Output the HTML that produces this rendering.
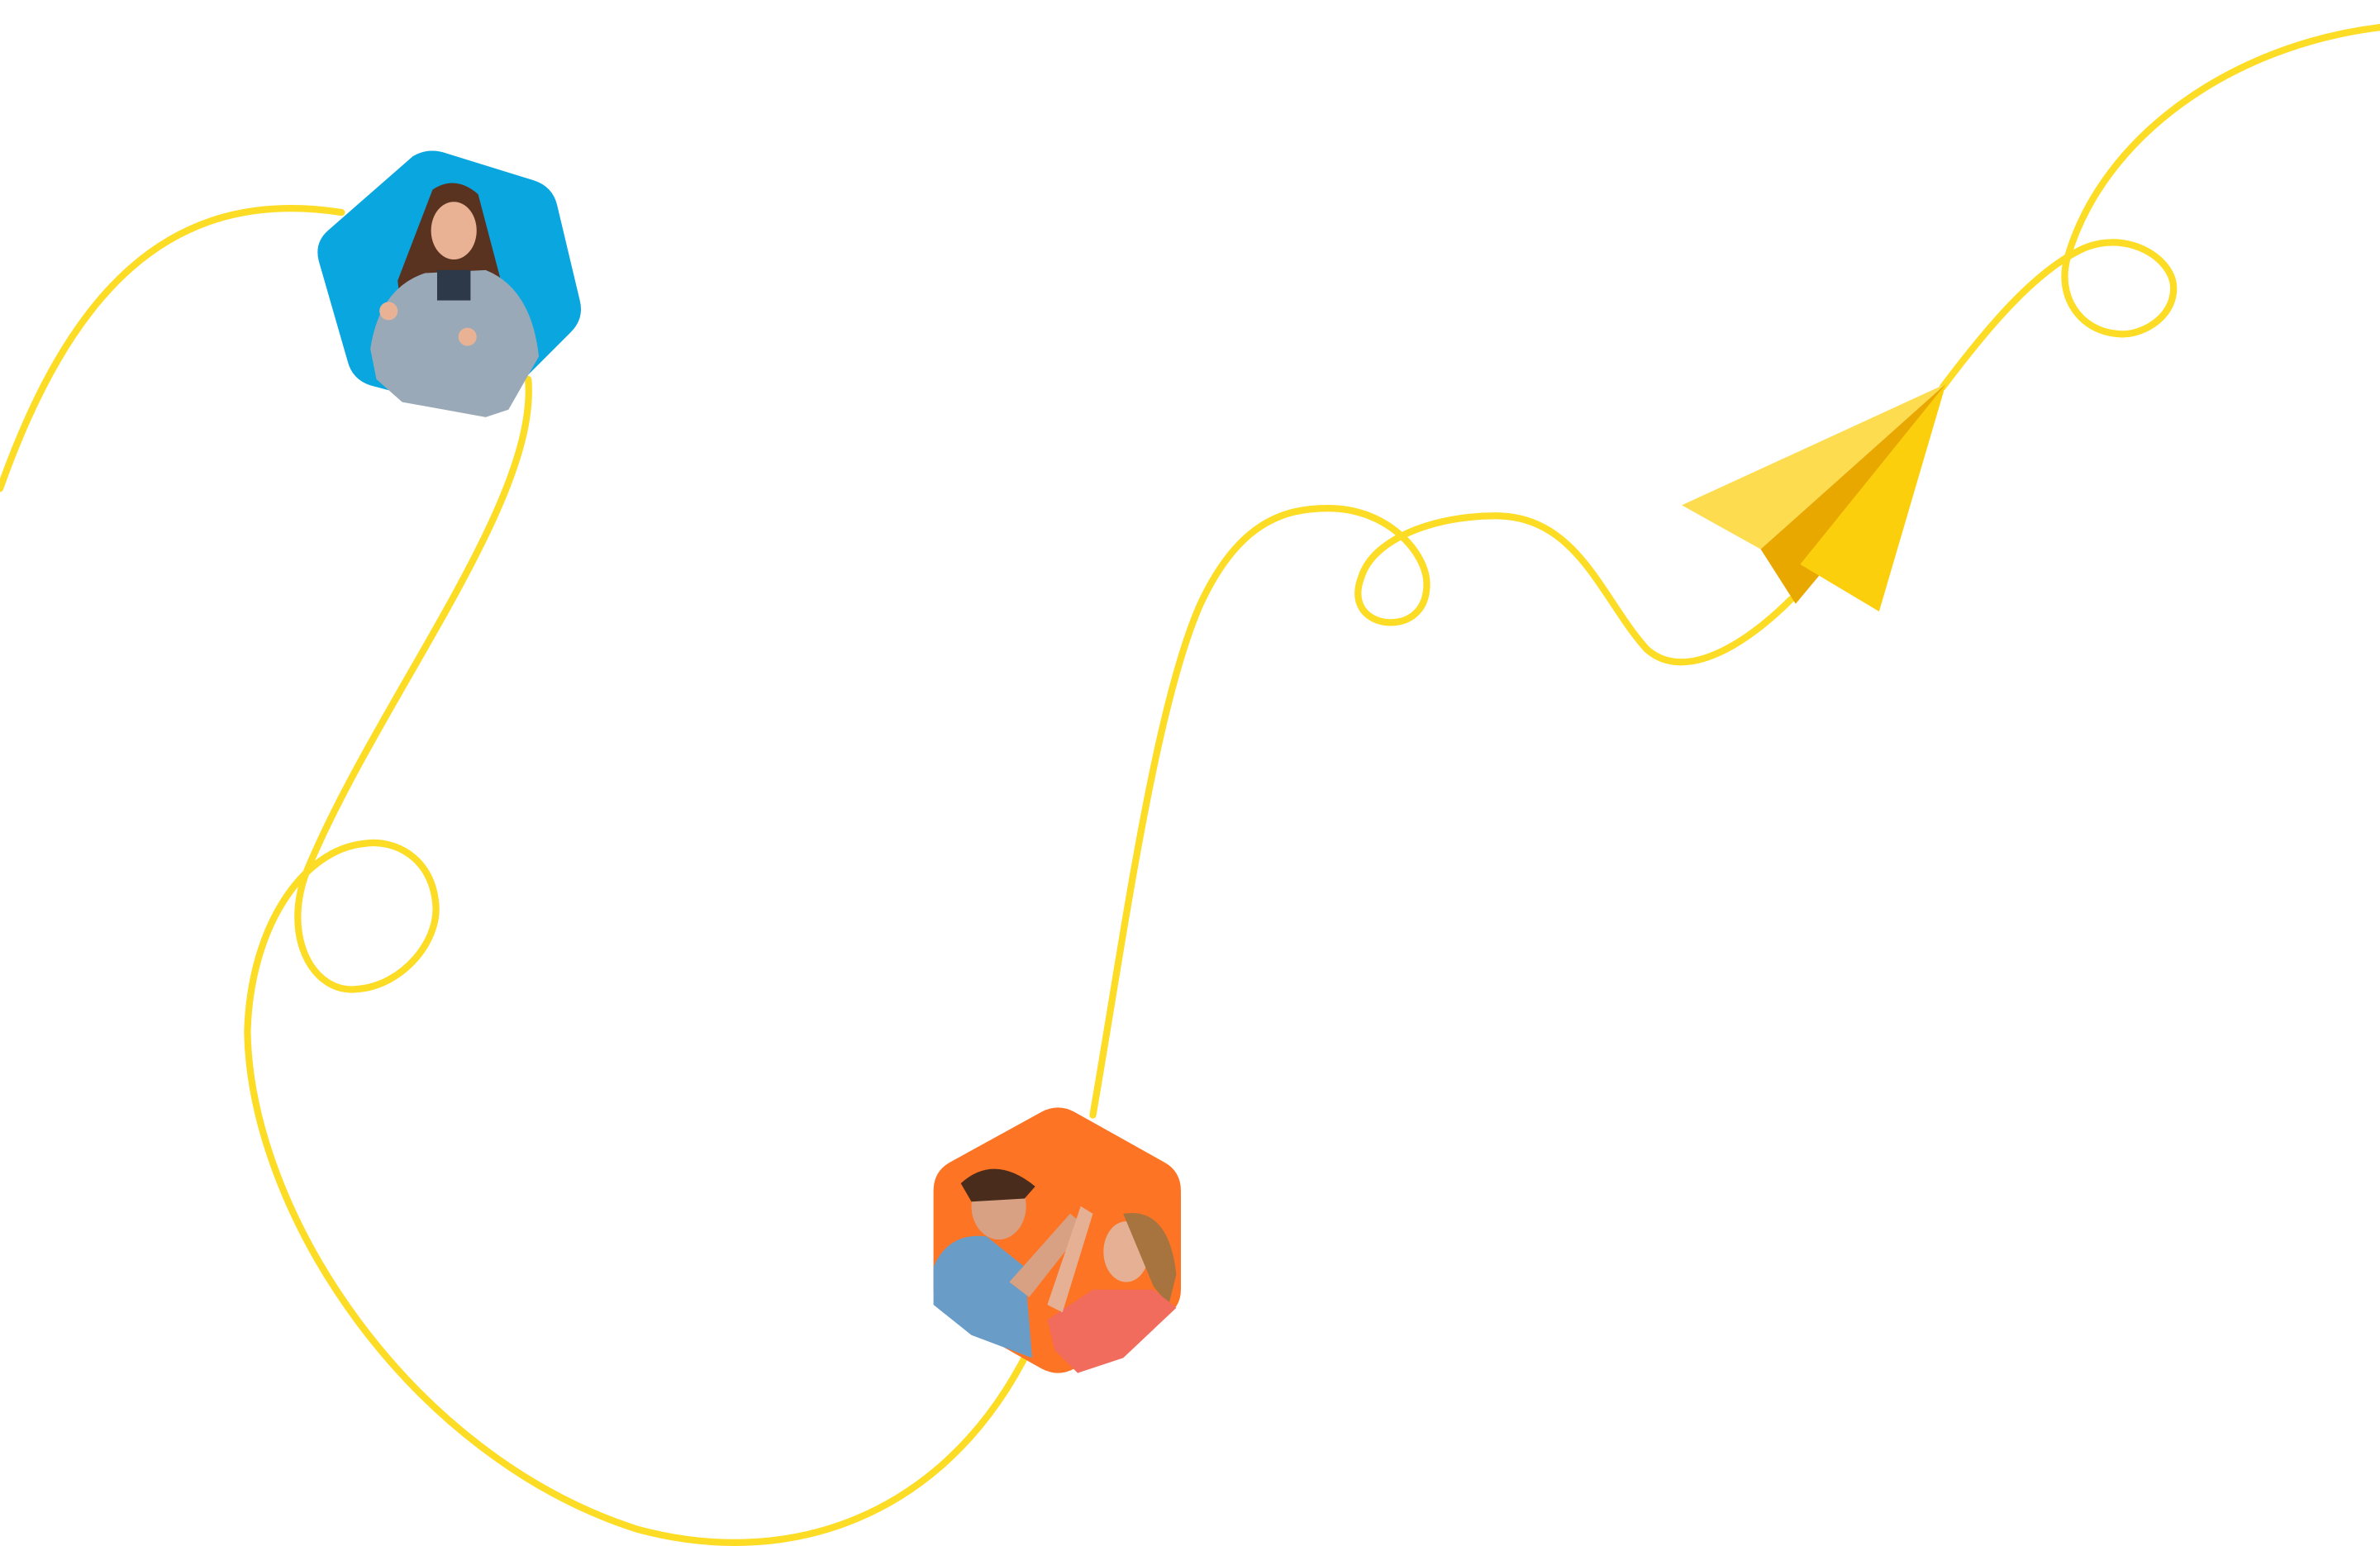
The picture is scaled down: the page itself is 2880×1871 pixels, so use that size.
<!DOCTYPE html>
<html><head><meta charset="utf-8"><style>
html,body{margin:0;padding:0;background:#fff;}
svg{display:block;}
</style></head><body>
<svg width="2880" height="1871" viewBox="0 0 1568 1019" xmlns="http://www.w3.org/2000/svg" preserveAspectRatio="none">
<g fill="none" stroke="#fcdc24" stroke-width="4.5" stroke-linecap="round">
<path d="M0,322 C45,195 110,122 225,140"/>
<path d="M348,250 C355,330 250,460 203,572 C185,615 205,655 235,652 C265,650 290,620 287,595 C284,565 260,553 240,556 C200,560 165,610 163,680 C165,800 270,960 420,1008 C520,1035 620,1000 675,895"/>
<path d="M720,735 C740,620 760,470 790,400 C815,345 845,335 875,335 C915,335 940,365 940,385 C940,405 925,412 912,410 C900,408 890,398 897,380 C905,355 945,340 985,340 C1040,340 1055,395 1085,428 C1110,450 1150,425 1180,395"/>
<path d="M1280,255 C1310,215 1340,180 1370,165 C1400,150 1432,170 1432,190 C1432,210 1410,222 1395,220 C1370,218 1355,195 1362,170 C1385,90 1470,30 1568,18"/>
</g>
<path d="M272,103 Q282,97 294,101 L352,119 Q364,123 367,135 L382,198 Q385,210 376,219 L330,265 Q320,274 308,271 L244,254 Q232,250 229,238 L210,172 Q207,160 216,152 Z" fill="#0aa6e0"/>
<g>
<path d="M285,125 Q300,115 315,128 L330,185 L322,260 L270,258 L262,185 Z" fill="#5a3320"/>
<ellipse cx="299" cy="152" rx="15" ry="19" fill="#e9b294"/>
<path d="M244,230 Q250,190 280,180 L320,178 Q350,190 355,235 L335,270 L320,275 L265,265 L248,250 Z" fill="#9aa9b8"/>
<rect x="288" y="178" width="22" height="20" fill="#2d3848"/>
<circle cx="256" cy="205" r="6" fill="#e9b294"/>
<circle cx="308" cy="222" r="6" fill="#e9b294"/>
</g>
<path d="M686,733 Q697,727 708,733 L767,766 Q778,772 778,785 L778,850 Q778,862 767,868 L708,902 Q697,908 686,902 L626,868 Q615,862 615,850 L615,785 Q615,772 626,766 Z" fill="#fd7424"/>
<g>
<ellipse cx="658" cy="795" rx="18" ry="22" fill="#d9a183"/>
<path d="M633,780 Q655,760 682,782 L675,790 L640,792 Z" fill="#4a2c1c"/>
<path d="M615,835 Q625,812 650,815 L675,835 L680,895 L640,880 L615,860 Z" fill="#6a9cc8"/>
<path d="M665,845 L705,800 L715,808 L678,855 Z" fill="#d9a183"/>
<ellipse cx="742" cy="825" rx="15" ry="20" fill="#e6b094"/>
<path d="M740,800 Q770,795 775,840 L770,860 L760,848 Z" fill="#a7743f"/>
<path d="M690,870 L720,850 L760,850 L775,862 L740,895 L710,905 L695,890 Z" fill="#f16c5c"/>
<path d="M690,860 L712,795 L720,800 L700,865 Z" fill="#e6b094"/>
</g>
<polygon points="1282,253 1108,333 1160,362" fill="#fddc4f"/>
<polygon points="1282,253 1160,362 1183,398 1198,380" fill="#e9a800"/>
<polygon points="1282,253 1186,372 1238,403" fill="#fccf0c"/>
</svg>
</body></html>
